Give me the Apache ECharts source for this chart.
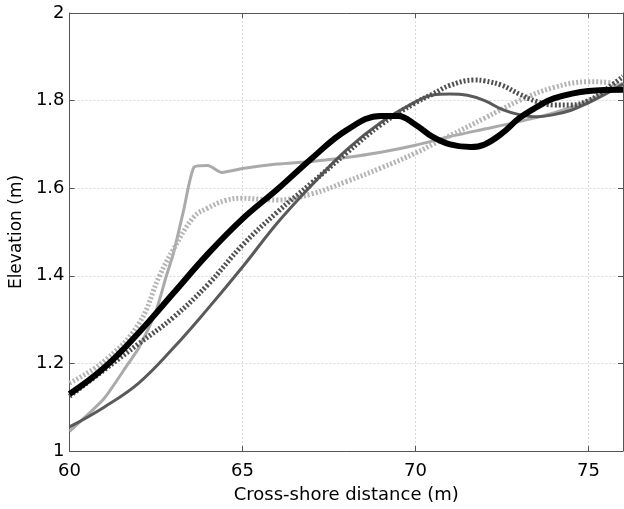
<!DOCTYPE html>
<html>
<head>
<meta charset="utf-8">
<script src="https://cdn.jsdelivr.net/npm/echarts@6/dist/echarts.min.js"></script>
<style>
html,body{margin:0;padding:0;background:#fff;}
#chart{width:624px;height:509px;}
</style>
</head>
<body>
<div id="chart"></div>
<script>
// Cross-shore distance (m) and elevation (m) for each profile
const blackX = [60, 61, 62, 63, 64, 65, 66, 67, 68, 69, 69.5, 70, 70.5, 71, 71.6, 72, 72.5, 73, 73.5, 74, 75, 76];
const blackY = [1.13, 1.19, 1.27, 1.36, 1.45, 1.53, 1.597, 1.668, 1.732, 1.765, 1.765, 1.745, 1.717, 1.70, 1.694, 1.70, 1.725, 1.76, 1.785, 1.805, 1.822, 1.825];

const darkX = [60, 61, 62, 63, 64, 65, 66, 67, 68, 69, 70, 70.5, 71, 71.5, 72, 72.5, 73, 73.5, 74, 74.5, 75, 75.5, 76];
const darkY = [1.055, 1.10, 1.155, 1.235, 1.325, 1.42, 1.52, 1.607, 1.687, 1.75, 1.797, 1.813, 1.815, 1.812, 1.80, 1.78, 1.768, 1.763, 1.768, 1.778, 1.795, 1.815, 1.838];

const darkDotX = [60, 61, 62, 63, 64, 65, 66, 67, 68, 69, 70, 70.5, 71, 71.7, 72, 72.5, 73, 73.5, 74, 74.5, 75, 75.5, 76];
const darkDotY = [1.125, 1.185, 1.245, 1.305, 1.38, 1.47, 1.545, 1.612, 1.68, 1.745, 1.795, 1.815, 1.835, 1.847, 1.845, 1.835, 1.815, 1.798, 1.79, 1.79, 1.80, 1.825, 1.855];

const lightX = [60, 61, 61.7, 62, 62.5, 62.8, 63, 63.3, 63.6, 64, 64.4, 65, 66, 67, 68, 69, 70, 71, 72, 73, 74, 75, 76];
const lightY = [1.045, 1.12, 1.20, 1.235, 1.32, 1.40, 1.45, 1.55, 1.648, 1.652, 1.636, 1.645, 1.655, 1.661, 1.67, 1.682, 1.698, 1.718, 1.735, 1.752, 1.772, 1.80, 1.84];

const lightDotX = [60, 61, 62, 62.6, 63, 63.6, 64, 64.5, 65, 65.5, 66, 67, 68, 69, 70, 70.5, 71, 72, 73, 74, 75, 75.5, 76];
const lightDotY = [1.155, 1.205, 1.29, 1.40, 1.46, 1.535, 1.555, 1.572, 1.577, 1.575, 1.573, 1.587, 1.615, 1.646, 1.68, 1.70, 1.72, 1.76, 1.80, 1.83, 1.843, 1.842, 1.832];

const xTicks = [60, 65, 70, 75];
const yTicks = [1, 1.2, 1.4, 1.6, 1.8, 2];

function pairs(xs, ys) { return xs.map((x, i) => [x, ys[i]]); }

const chart = echarts.init(document.getElementById('chart'));
const font = 'DejaVu Sans, Liberation Sans, Arial, sans-serif';

const baseX = {
  type: 'value', min: 60, max: 76, interval: 5,
  axisLine: { show: true, onZero: false, lineStyle: { color: '#555', width: 1 } },
  axisTick: { show: true, inside: true, length: 5, lineStyle: { color: '#555' } }
};
const baseY = {
  type: 'value', min: 1, max: 2, interval: 0.2,
  axisLine: { show: true, onZero: false, lineStyle: { color: '#555', width: 1 } },
  axisTick: { show: true, inside: true, length: 5, lineStyle: { color: '#555' } }
};

chart.setOption({
  animation: false,
  backgroundColor: '#fff',
  grid: { left: 68, right: 1, top: 13, bottom: 58, containLabel: false },
  xAxis: [
    Object.assign({}, baseX, {
      position: 'bottom',
      name: 'Cross-shore distance (m)', nameLocation: 'middle', nameGap: 35,
      nameTextStyle: { fontFamily: font, fontSize: 18, color: '#000' },
      axisLabel: { fontFamily: font, fontSize: 18, color: '#000', margin: 11, showMaxLabel: false,
        formatter: v => xTicks.includes(v) ? String(v) : '' },
      splitLine: { show: true, lineStyle: { color: '#d8d8d8', type: [2, 2], width: 1 } }
    }),
    Object.assign({}, baseX, {
      position: 'top',
      axisLabel: { show: false },
      splitLine: { show: false }
    })
  ],
  yAxis: [
    Object.assign({}, baseY, {
      position: 'left',
      name: 'Elevation (m)', nameLocation: 'middle', nameGap: 41,
      nameTextStyle: { fontFamily: font, fontSize: 17, color: '#000' },
      axisLabel: { fontFamily: font, fontSize: 18, color: '#000', margin: 5,
        formatter: v => yTicks.some(t => Math.abs(t - v) < 1e-9) ? String(+v.toFixed(1)) : '' },
      splitLine: { show: true, lineStyle: { color: '#d8d8d8', type: [2, 2], width: 1 } }
    }),
    Object.assign({}, baseY, {
      position: 'right',
      axisLabel: { show: false },
      splitLine: { show: false }
    })
  ],
  series: [
    { type: 'line', data: pairs(lightX, lightY), smooth: 0.2, showSymbol: false,
      lineStyle: { color: '#aaaaaa', width: 3 } },
    { type: 'line', data: pairs(lightDotX, lightDotY), smooth: 0.4, showSymbol: false,
      lineStyle: { color: '#b4b4b4', width: 5, type: [2, 2], cap: 'butt' } },
    { type: 'line', data: pairs(darkX, darkY), smooth: 0.4, showSymbol: false,
      lineStyle: { color: '#5a5a5a', width: 3 } },
    { type: 'line', data: pairs(darkDotX, darkDotY), smooth: 0.4, showSymbol: false,
      lineStyle: { color: '#505050', width: 5, type: [2, 2], cap: 'butt' } },
    { type: 'line', data: pairs(blackX, blackY), smooth: 0.4, showSymbol: false,
      lineStyle: { color: '#000000', width: 6 } }
  ]
});
</script>
</body>
</html>
